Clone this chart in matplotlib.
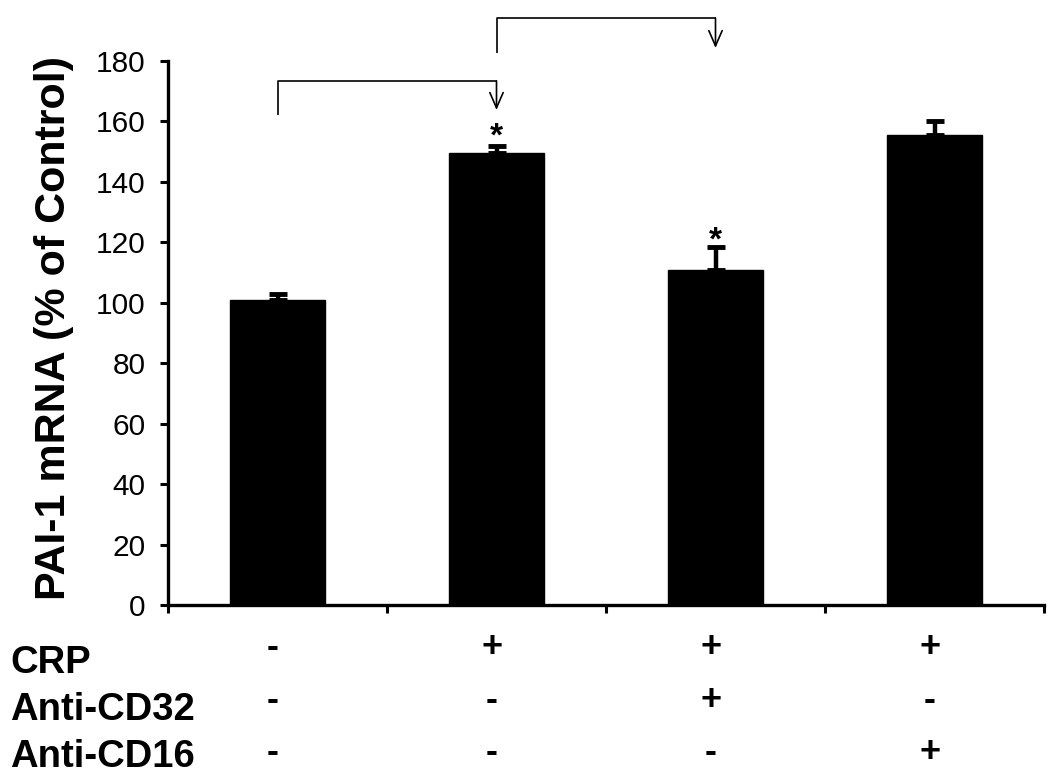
import matplotlib
matplotlib.use("Agg")
import matplotlib.pyplot as plt
import matplotlib.transforms as mtransforms

plt.rcParams['font.family'] = ['Liberation Sans', 'DejaVu Sans']

# ---- data ----
groups = [0, 1, 2, 3]
values = [101, 149.5, 111, 155.5]
errors = [1.8, 2.3, 7.3, 4.5]
y_ticks = [0, 20, 40, 60, 80, 100, 120, 140, 160, 180]
row_labels = ["CRP", "Anti-CD32", "Anti-CD16"]
row_symbols = [["-", "+", "+", "+"],
               ["-", "-", "+", "-"],
               ["-", "-", "-", "+"]]
star_groups = [1, 2]
star_y = [158, 123.5]
# brackets: (from group, to group, left bottom, horizontal level, arrow tip)
brackets = [(0, 1, 162.1, 173.4, 163.8),
            (1, 2, 182.7, 194.1, 184.3)]
ylabel = "PAI-1 mRNA (% of Control)"

W, H = 1050, 780
fig = plt.figure(figsize=(W / 100, H / 100), dpi=100)
ax = fig.add_axes([168 / W, 175 / H, (1044 - 168) / W, (605 - 61) / H])

ax.bar(groups, values, width=0.43, color='black', edgecolor='black',
       yerr=[[0] * len(errors), errors],
       error_kw=dict(ecolor='black', elinewidth=3.2, capsize=6.5, capthick=3.5))

ax.set_xlim(-0.5, 3.5)
ax.set_ylim(0, 180)
ax.set_yticks(y_ticks)
ax.set_yticklabels([str(t) for t in y_ticks], fontsize=21.5)
ax.set_xticks([-0.5, 0.5, 1.5, 2.5, 3.5])
ax.set_xticklabels([])
for s in ['top', 'right']:
    ax.spines[s].set_visible(False)
for s in ['left', 'bottom']:
    ax.spines[s].set_linewidth(2.4)
ax.tick_params(axis='both', direction='out', length=6, width=2.2, color='black')
ax.tick_params(axis='y', pad=10)

# y label
fig.text(54 / W, 1 - 328 / H, ylabel, rotation=90, ha='center', va='center',
         fontsize=31, fontweight='bold')

# asterisks
for g, y in zip(star_groups, star_y):
    ax.annotate('*', xy=(g, y), xytext=(0, -13), textcoords='offset points',
                ha='center', va='baseline', fontsize=24, fontweight='bold',
                annotation_clip=False)

# brackets with arrows
for g0, g1, yb, yh, yt in brackets:
    ax.plot([g0, g0, g1], [yb, yh, yh], color='black', lw=1.2, clip_on=False,
            solid_capstyle='butt')
    ax.annotate('', xy=(g1, yt), xytext=(g1, yh),
                arrowprops=dict(arrowstyle='->,head_length=0.55,head_width=0.24',
                                lw=1.2, color='black', shrinkA=0, shrinkB=0,
                                mutation_scale=20),
                annotation_clip=False)

# table below the axis
label_baselines = [673, 720, 767]
symbol_baselines = [657, 710, 762]
trans = mtransforms.blended_transform_factory(ax.transData, fig.transFigure)
for i, lab in enumerate(row_labels):
    fig.text(10 / W, 1 - label_baselines[i] / H, lab, ha='left', va='baseline',
             fontsize=27.5, fontweight='bold')
    for g, sym in zip(groups, row_symbols[i]):
        ax.text(g - 0.02, 1 - symbol_baselines[i] / H, sym, transform=trans,
                ha='center', va='baseline', fontsize=26, fontweight='bold',
                clip_on=False)

fig.savefig("out.png", dpi=100)
